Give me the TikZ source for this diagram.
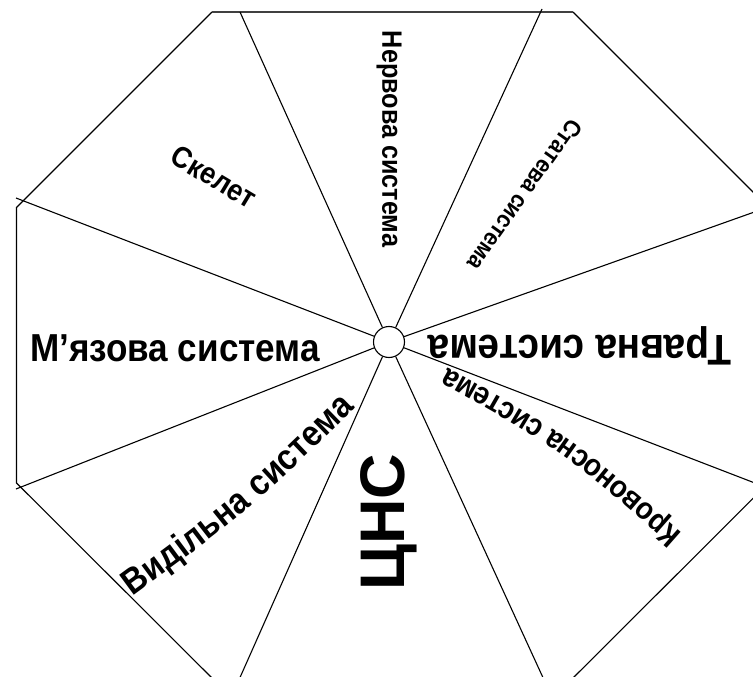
\documentclass[tikz,border=0pt]{standalone}
\usepackage{fontspec}
\usetikzlibrary{decorations.text}
\setmainfont[FakeStretch=0.9]{Liberation Sans}
\newfontfamily\widefont[FakeStretch=1.0]{Liberation Sans}
\begin{document}
\begin{tikzpicture}[x=1pt,y=-1pt,
  line/.style={line width=1.1pt, black},
  topedge/.style={line width=1.8pt, black!75},
  lbl/.style={inner sep=0pt, anchor=center}]
\useasboundingbox (0,0) rectangle (753,677);
\clip (0,0) rectangle (753,677);
% octagon vertices
\coordinate (v1) at (212,12);
\coordinate (v2) at (573,12);
\coordinate (v3) at (768.5,207.5);
\coordinate (v4) at (768.5,483);
\coordinate (v5) at (573,678);
\coordinate (v6) at (212,678);
\coordinate (v7) at (16.5,483);
\coordinate (v8) at (16.5,207.5);
% ray ends
\coordinate (r1) at (240,12);
\coordinate (r2) at (542,9);
\coordinate (r3) at (760,210);
\coordinate (r4) at (760,485);
\coordinate (r5) at (545,682);
\coordinate (r6) at (238,682);
\coordinate (r7) at (16,489);
\coordinate (r8) at (16,198);
\node[circle, draw, line width=1.1pt, minimum size=31pt, inner sep=0pt] (c) at (389,342) {};
\draw[line] (v2) -- (v3) -- (v4) -- (v5) -- (v6) -- (v7) -- (v8) -- (v1);
\draw[topedge] (v1) -- (v2);
\foreach \r in {r1,r2,r3,r4,r5,r6,r7,r8} \draw[line] (c) -- (\r);
% labels
\node[lbl, rotate=-90, font=\bfseries\fontsize{28}{28}\selectfont] (n1) at (389,139) {Нервова система};
\node[lbl, rotate=-125.5, font=\bfseries\fontsize{24}{24}\selectfont] (n2) at (525,195) {Статева система};
\node[lbl, rotate=180, font=\bfseries\fontsize{43}{43}\selectfont] (n3) at (580,346) {Травна система};
% curved label: Кровоносна система
\coordinate (k1) at (700,549);
\coordinate (kc) at (574,438);
\coordinate (k2) at (427,356);
\path[decorate, decoration={text along path, text align=center,
  text={|\bfseries\fontsize{31}{31}\selectfont|Кровоносна система}}]
  (k1) .. controls (kc) .. (k2);
\node[lbl, rotate=90, font=\widefont\bfseries\fontsize{63}{63}\selectfont] (n5) at (389,522) {ЦНС};
% curved label: Видільна система
\coordinate (w1) at (113,611);
\coordinate (wc) at (251,510);
\coordinate (w2) at (373,391);
\path[decorate, decoration={text along path, text align=center,
  text={|\bfseries\fontsize{36}{36}\selectfont|Видільна система}}]
  (w1) .. controls (wc) .. (w2);
\node[lbl, font=\bfseries\fontsize{39}{39}\selectfont] (n7) at (175,348) {М’язова система};
\node[lbl, rotate=-31, font=\bfseries\fontsize{30}{30}\selectfont] (n8) at (214,177) {Скелет};
\end{tikzpicture}
\end{document}
